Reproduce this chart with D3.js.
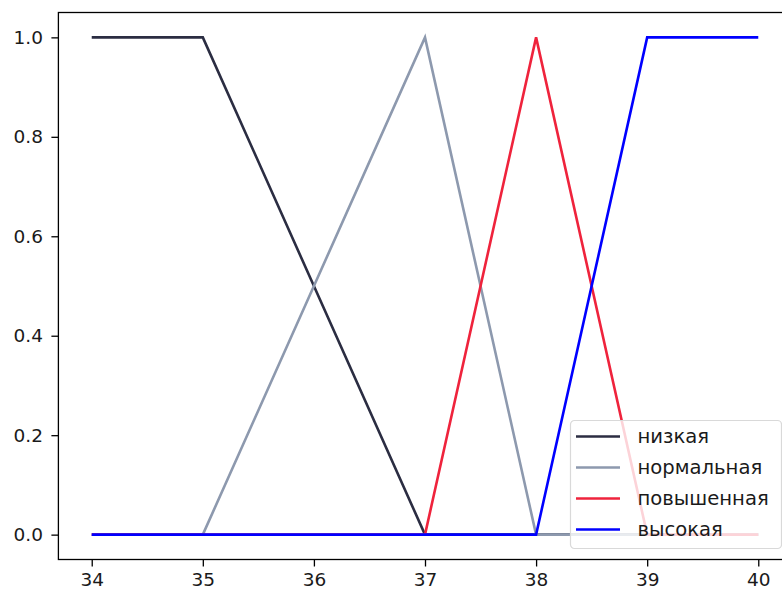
<!DOCTYPE html>
<html>
<head>
<meta charset="utf-8">
<script src="https://cdn.jsdelivr.net/npm/d3@7"></script>
<style>
  html, body { margin: 0; padding: 0; background: #fff; }
  svg { display: block; font-family: "DejaVu Sans", sans-serif; }
</style>
</head>
<body>
<svg id="chart" width="782" height="590"></svg>
<script>
// Temperature points (°C) at which the membership functions are sampled
const temps = [34, 35, 36, 37, 38, 39, 40];

// Membership degrees of each term
const low      = [1, 1, 0.5, 0, 0, 0, 0];
const normal   = [0, 0, 0.5, 1, 0, 0, 0];
const elevated = [0, 0, 0, 0, 1, 0, 0];
const high     = [0, 0, 0, 0, 0, 1, 1];

const seriesNames = ["низкая", "нормальная", "повышенная", "высокая"];
const seriesColors = ["#2b2d42", "#8d99ae", "#ef233c", "#0000ff"];
const seriesValues = [low, normal, elevated, high];

const xTicks = [34, 35, 36, 37, 38, 39, 40];
const yTicks = [0.0, 0.2, 0.4, 0.6, 0.8, 1.0];

const TICK_FONT = "18.5px";
const LEGEND_FONT = "19.6px";
const svg = d3.select("#chart");

const plot = { left: 58.4, right: 791.6, top: 12.5, bottom: 559.5 };

const x = d3.scaleLinear().domain([33.7, 40.3]).range([plot.left, plot.right]);
const y = d3.scaleLinear().domain([-0.05, 1.05]).range([plot.bottom, plot.top]);

// Lines
const line = d3.line()
  .x((d, i) => x(temps[i]))
  .y(d => y(d));

const gLines = svg.append("g");
seriesValues.forEach((vals, k) => {
  gLines.append("path")
    .datum(vals)
    .attr("d", line)
    .attr("fill", "none")
    .attr("stroke", seriesColors[k])
    .attr("stroke-width", 2.6)
    .attr("stroke-linejoin", "miter");
});

// Axes
const xAxis = d3.axisBottom(x).tickValues(xTicks).tickFormat(d3.format("d"))
  .tickSizeInner(7).tickSizeOuter(0).tickPadding(6.5);
const yAxis = d3.axisLeft(y).tickValues(yTicks).tickFormat(d3.format(".1f"))
  .tickSizeInner(7).tickSizeOuter(0).tickPadding(8.5);

const gx = svg.append("g").attr("transform", `translate(0,${plot.bottom})`).call(xAxis);
const gy = svg.append("g").attr("transform", `translate(${plot.left},0)`).call(yAxis);

[gx, gy].forEach(g => {
  g.attr("font-size", null).attr("font-family", null);
  g.select(".domain").remove();
  g.selectAll(".tick line").attr("stroke", "#000").attr("stroke-width", 1.3);
  g.selectAll(".tick text").attr("fill", "#1a1a1a")
    .style("font-size", TICK_FONT)
    .style("font-family", "'DejaVu Sans', sans-serif");
});

// Frame (spines)
svg.append("rect")
  .attr("x", plot.left).attr("y", plot.top)
  .attr("width", plot.right - plot.left).attr("height", plot.bottom - plot.top)
  .attr("fill", "none").attr("stroke", "#000").attr("stroke-width", 1.3);

// Legend
const legend = svg.append("g").attr("transform", "translate(570.5,420.5)");
legend.append("rect")
  .attr("x", 0).attr("y", 0).attr("width", 211).attr("height", 128)
  .attr("rx", 4).attr("ry", 4)
  .attr("fill", "rgba(255,255,255,0.8)")
  .attr("stroke", "#d9d9d9").attr("stroke-width", 1.2);

seriesNames.forEach((name, k) => {
  const cy = 16 + k * 31;
  legend.append("line")
    .attr("x1", 5.5).attr("x2", 49.5).attr("y1", cy).attr("y2", cy)
    .attr("stroke", seriesColors[k]).attr("stroke-width", 2.6);
  legend.append("text")
    .attr("x", 67).attr("y", cy + 6)
    .attr("fill", "#1a1a1a")
    .style("font-size", LEGEND_FONT)
    .text(name);
});
</script>
</body>
</html>
